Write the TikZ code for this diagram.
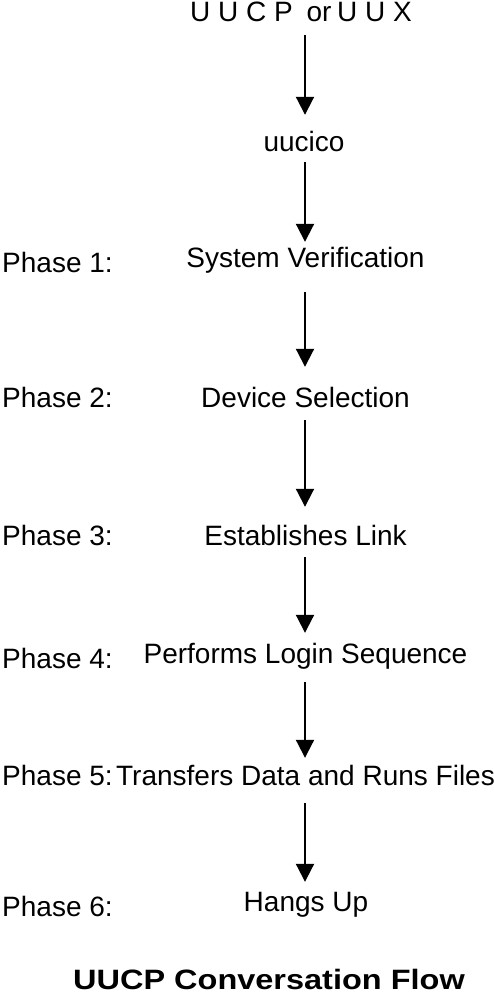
\documentclass[tikz,border=0pt]{standalone}
\usepackage{fontspec}
\setmainfont{Liberation Sans}
\usetikzlibrary{arrows.meta}
\begin{document}
\begin{tikzpicture}[x=1pt,y=-1pt,
  lbl/.style={inner sep=0pt, text height=20pt, text depth=6pt, font=\fontsize{28}{31}\selectfont, anchor=base},
  phase/.style={lbl, anchor=base west},
  flow/.style={line width=2pt, -{Triangle[width=18pt,length=18pt]}}]
\useasboundingbox (0,0) rectangle (494,995);
\coordinate (ax) at (305,0);
\node[lbl] (top) at (301,22) {U U C P\hspace{6pt} or\hspace{-2pt} U U X};
\node[lbl] (uucico) at (304,152) {uucico};
\node[lbl] (sv) at (305.5,267) {System Verification};
\node[lbl] (ds) at (305.5,407) {Device Selection};
\node[lbl] (el) at (305.5,545) {Establishes Link};
\node[lbl] (pl) at (305.5,663) {Performs Login Sequence};
\node[lbl] (td) at (305.5,785) {Transfers Data and Runs Files};
\node[lbl] (hu) at (306,911) {Hangs Up};
\node[phase] (p1) at (2,272) {Phase 1:};
\node[phase] (p2) at (2,407) {Phase 2:};
\node[phase] (p3) at (2,545) {Phase 3:};
\node[phase] (p4) at (2,668) {Phase 4:};
\node[phase] (p5) at (2,785) {Phase 5:};
\node[phase] (p6) at (2,916) {Phase 6:};
\node[inner sep=0pt, anchor=base, font=\bfseries\fontsize{28}{30}\selectfont] (title) at (269,989) {\scalebox{1.16}[1]{UUCP Conversation Flow}};
\draw[flow, shorten <=7pt, shorten >=17pt] (top.south -| ax) -- (uucico.north -| ax);
\draw[flow, shorten <=4pt, shorten >=5pt] (uucico.south -| ax) -- (sv.north -| ax);
\draw[flow, shorten <=19pt, shorten >=20pt] (sv.south -| ax) -- (ds.north -| ax);
\draw[flow, shorten <=7pt, shorten >=18pt] (ds.south -| ax) -- (el.north -| ax);
\draw[flow, shorten <=6pt, shorten >=10pt] (el.south -| ax) -- (pl.north -| ax);
\draw[flow, shorten <=13pt, shorten >=7pt] (pl.south -| ax) -- (td.north -| ax);
\draw[flow, shorten <=12pt, shorten >=9pt] (td.south -| ax) -- (hu.north -| ax);
\end{tikzpicture}
\end{document}
